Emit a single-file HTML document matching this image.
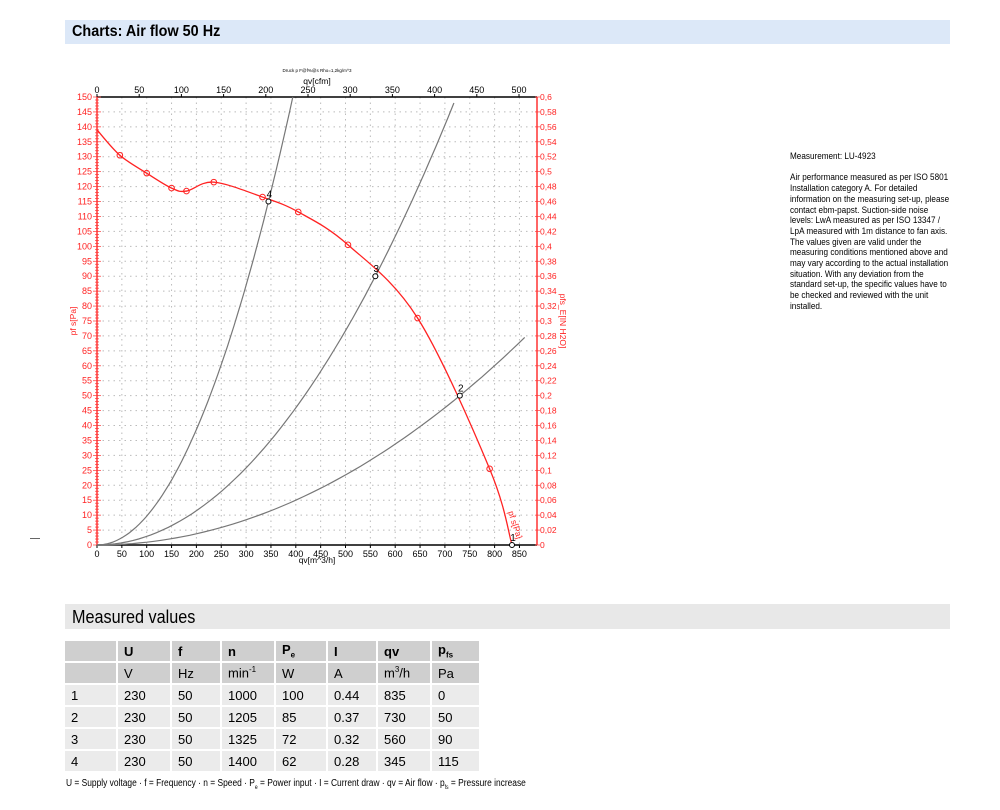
<!DOCTYPE html>
<html><head><meta charset="utf-8"><style>
body{margin:0;background:#fff;font-family:"Liberation Sans",sans-serif;}
#wrap{position:relative;width:1000px;height:810px;overflow:hidden;}
.bar{position:absolute;left:65px;width:885px;}
.t1{top:20px;height:24px;background:#dce8f8;font-weight:bold;font-size:16px;line-height:24px;padding-left:7px;box-sizing:border-box;}
.t1 span,.t2 span{display:inline-block;transform:scaleX(0.9);transform-origin:left;}
.t2{top:604px;height:25px;background:#e8e8e8;font-size:18px;line-height:26px;padding-left:7px;box-sizing:border-box;}
#txt{position:absolute;left:790px;top:152px;width:200px;font-size:9.6px;line-height:10.7px;color:#000;white-space:nowrap;transform:scaleX(0.85);transform-origin:left top;}
table{position:absolute;left:65px;top:641px;border-collapse:separate;border-spacing:2px;margin:-2px;font-size:13px;table-layout:fixed;}
td{height:20px;padding:0 0 0 6px;background:#ebebeb;overflow:hidden;white-space:nowrap;}
tr.h td{background:#cfcfcf;}
#foot{position:absolute;left:66px;top:778px;font-size:10px;white-space:nowrap;transform:scaleX(0.84);transform-origin:left top;}
</style></head><body><div id="wrap">
<div class="bar t1"><span>Charts: Air flow 50 Hz</span></div>
<svg id="ch" width="1000" height="600" style="position:absolute;left:0;top:0" font-family="Liberation Sans, sans-serif"></svg>
<div id="txt">Measurement: LU-4923<br><br>Air performance measured as per ISO 5801<br>Installation category A. For detailed<br>information on the measuring set-up, please<br>contact ebm-papst. Suction-side noise<br>levels: LwA measured as per ISO 13347 /<br>LpA measured with 1m distance to fan axis.<br>The values given are valid under the<br>measuring conditions mentioned above and<br>may vary according to the actual installation<br>situation. With any deviation from the<br>standard set-up, the specific values have to<br>be checked and reviewed with the unit<br>installed.</div>
<div class="bar t2"><span>Measured values</span></div>
<table>
<colgroup><col style="width:51px"><col style="width:52px"><col style="width:48px"><col style="width:52px"><col style="width:50px"><col style="width:48px"><col style="width:52px"><col style="width:47px"></colgroup>
<tr class="h" style="font-weight:bold"><td></td><td>U</td><td>f</td><td>n</td><td>P<sub style="font-size:8px">e</sub></td><td>I</td><td>qv</td><td>p<sub style="font-size:8px">fs</sub></td></tr>
<tr class="h"><td></td><td>V</td><td>Hz</td><td>min<sup style="font-size:8px">-1</sup></td><td>W</td><td>A</td><td>m<sup style="font-size:8px">3</sup>/h</td><td>Pa</td></tr>
<tr><td>1</td><td>230</td><td>50</td><td>1000</td><td>100</td><td>0.44</td><td>835</td><td>0</td></tr>
<tr><td>2</td><td>230</td><td>50</td><td>1205</td><td>85</td><td>0.37</td><td>730</td><td>50</td></tr>
<tr><td>3</td><td>230</td><td>50</td><td>1325</td><td>72</td><td>0.32</td><td>560</td><td>90</td></tr>
<tr><td>4</td><td>230</td><td>50</td><td>1400</td><td>62</td><td>0.28</td><td>345</td><td>115</td></tr>
</table>
<div id="foot">U = Supply voltage · f = Frequency · n = Speed · P<sub style="font-size:6px">e</sub> = Power input · I = Current draw · qv = Air flow · p<sub style="font-size:6px">fs</sub> = Pressure increase</div>
<div style="position:absolute;left:30px;top:538px;width:10px;height:1px;background:#666"></div>
</div>
<script>
const X0=97,XR=537,Y0=545,YT=97,SX=0.497,SY=(Y0-YT)/150;
const X=q=>X0+q*SX, Y=p=>Y0-p*SY;
let s='';
for(let q=50;q<=850;q+=50)s+=`<line x1="${X(q)}" y1="${YT}" x2="${X(q)}" y2="${Y0}" stroke="#bbb" stroke-dasharray="1.5,4"/>`;
for(let p=5;p<150;p+=5)s+=`<line x1="${X0}" y1="${Y(p)}" x2="${XR}" y2="${Y(p)}" stroke="#bbb" stroke-dasharray="1.5,4"/>`;
s+=`<line x1="${X0}" y1="${YT}" x2="${XR}" y2="${YT}" stroke="#000" stroke-width="1.5"/>`;
s+=`<line x1="${X0}" y1="${Y0}" x2="${XR}" y2="${Y0}" stroke="#000" stroke-width="1.5"/>`;
s+=`<line x1="${X0}" y1="${YT}" x2="${X0}" y2="${Y0}" stroke="#f33" stroke-width="1.5"/>`;
s+=`<line x1="${XR}" y1="${YT}" x2="${XR}" y2="${Y0}" stroke="#f33" stroke-width="1.5"/>`;
for(let p=0;p<=150;p+=1){let l=p%5==0?4:2;s+=`<line x1="${X0-l}" y1="${Y(p)}" x2="${X0+l}" y2="${Y(p)}" stroke="#f33" stroke-width="0.7"/>`;}
for(let p=0;p<=150;p+=5)s+=`<text x="${X0-5}" y="${Y(p)+3}" font-size="9" fill="#f22" text-anchor="end">${p}</text>`;
for(let i=0;i<=30;i++){let v=i*0.02,y=Y0-(Y0-YT)*i/30;s+=`<line x1="${XR-2}" y1="${y}" x2="${XR+3}" y2="${y}" stroke="#f33" stroke-width="0.7"/><text x="${XR+3}" y="${y+3}" font-size="8.5" fill="#f22">${(+v.toFixed(2)).toString().replace('.',',')}</text>`;}
for(let q=0;q<=850;q+=50)s+=`<line x1="${X(q)}" y1="${Y0}" x2="${X(q)}" y2="${Y0+3}" stroke="#000"/><text x="${X(q)}" y="${Y0+12}" font-size="9" text-anchor="middle">${q}</text>`;
for(let c=0;c<=500;c+=50){let x=X0+c/500*(519-X0);s+=`<line x1="${x}" y1="${YT-3}" x2="${x}" y2="${YT}" stroke="#000"/><text x="${x}" y="${YT-4}" font-size="9" text-anchor="middle">${c}</text>`;}
s+=`<text x="317" y="563" font-size="8.5" text-anchor="middle">qv[m^3/h]</text>`;
s+=`<text x="317" y="84" font-size="8.5" text-anchor="middle">qv[cfm]</text>`;
s+=`<text x="317" y="72" font-size="4.5" text-anchor="middle">Druck p F@f%@s Rho=1,2kg/m^3</text>`;
s+=`<text transform="translate(76,321) rotate(-90)" font-size="8.5" fill="#f22" text-anchor="middle">pf s[Pa]</text>`;
s+=`<text transform="translate(560,321) rotate(90)" font-size="8.5" fill="#f22" text-anchor="middle">pfs_E[IN H2O]</text>`;
[[345,115,150],[560,90,148],[730,50,69.5]].forEach(([q,p,pm])=>{let k=p/q/q,qm=Math.sqrt(pm/k),d='';for(let i=0;i<=60;i++){let qq=qm*i/60;d+=(i?'L':'M')+X(qq).toFixed(1)+','+Y(k*qq*qq).toFixed(1);}s+=`<path d="${d}" fill="none" stroke="#777" stroke-width="1.2"/>`;});
const P=[[0,139],[46,130.5],[100,124.5],[150,119.5],[180,118.5],[235,121.5],[333,116.5],[405,111.5],[505,100.5],[645,76],[790,25.5],[835,0]];
let pts=P.map(([q,p])=>[X(q),Y(p)]),d=`M${pts[0]}`;
for(let i=0;i<pts.length-1;i++){let p0=pts[Math.max(0,i-1)],p1=pts[i],p2=pts[i+1],p3=pts[Math.min(pts.length-1,i+2)];
d+=`C${p1[0]+(p2[0]-p0[0])/6},${p1[1]+(p2[1]-p0[1])/6} ${p2[0]-(p3[0]-p1[0])/6},${p2[1]-(p3[1]-p1[1])/6} ${p2[0]},${p2[1]}`;}
s+=`<path d="${d}" fill="none" stroke="#f22" stroke-width="1.3"/>`;
[[46,130.5],[100,124.5],[150,119.5],[180,118.5],[235,121.5],[333,116.5],[405,111.5],[505,100.5],[645,76],[790,25.5]].forEach(([q,p])=>{s+=`<circle cx="${X(q)}" cy="${Y(p)}" r="2.8" fill="none" stroke="#f22"/><circle cx="${X(q)}" cy="${Y(p)}" r="0.6" fill="#f22"/>`;});
[[345,115,'4'],[560,90,'3'],[730,50,'2'],[835,0,'1']].forEach(([q,p,l])=>{s+=`<circle cx="${X(q)}" cy="${Y(p)}" r="2.5" fill="#fff" stroke="#000"/><text x="${X(q)+1}" y="${Y(p)-4}" font-size="10" text-anchor="middle">${l}</text>`;});
s+=`<text transform="translate(508,512) rotate(72)" font-size="8.5" fill="#f22">pf s[Pa]</text>`;
document.getElementById('ch').innerHTML=s;
</script>
</body></html>
